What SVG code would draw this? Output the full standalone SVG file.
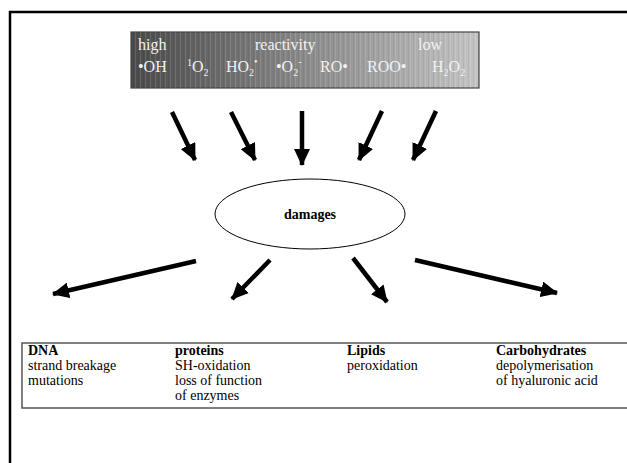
<svg xmlns="http://www.w3.org/2000/svg" width="627" height="463" viewBox="0 0 627 463">
<defs>
<linearGradient id="grad" x1="0" y1="0" x2="1" y2="0">
<stop offset="0" stop-color="#4a4a4a"/>
<stop offset="0.5" stop-color="#8a8a8a"/>
<stop offset="1" stop-color="#c4c4c4"/>
</linearGradient>
<pattern id="stripes" x="0" y="0" width="5" height="10" patternUnits="userSpaceOnUse">
<rect x="0" y="0" width="1" height="10" fill="#ffffff" fill-opacity="0.12"/>
<rect x="3" y="0" width="1" height="10" fill="#000000" fill-opacity="0.06"/>
</pattern>
<marker id="ah" markerUnits="userSpaceOnUse" markerWidth="18" markerHeight="16" refX="16" refY="8" orient="auto">
<path d="M0,0 L17,8 L0,16 Z" fill="#000"/>
</marker>
<style>
.conn { stroke:#000; stroke-width:4.5; fill:none; marker-end:url(#ah); }
.w { font-family:"Liberation Serif","Times New Roman",serif; font-size:16px; fill:#f2f2f2; }
.t { font-family:"Liberation Serif","Times New Roman",serif; font-size:14px; fill:#000; }
.b { font-weight:bold; }
</style>
</defs>
<rect x="0" y="0" width="627" height="463" fill="#fff"/>
<rect x="10" y="12" width="640" height="470" fill="none" stroke="#000" stroke-width="2.5"/>

<g id="reactivity-scale">
<rect x="131" y="32" width="348" height="56" fill="url(#grad)" stroke="#444" stroke-width="1.2"/>
<rect x="131" y="32" width="348" height="56" fill="url(#stripes)"/>
<text class="w" x="138" y="50">high</text>
<text class="w" x="255" y="50">reactivity</text>
<text class="w" x="418" y="50">low</text>
<text class="w" x="138" y="72">•OH</text>
<text class="w" x="187" y="72"><tspan font-size="10" dy="-6">1</tspan><tspan dy="6">O</tspan><tspan font-size="10" dy="4">2</tspan></text>
<text class="w" x="226" y="72">HO<tspan font-size="10" dy="4">2</tspan><tspan font-size="10" dy="-11">•</tspan></text>
<text class="w" x="276" y="72">•O<tspan font-size="10" dy="4">2</tspan><tspan font-size="10" dy="-11">-</tspan></text>
<text class="w" x="320" y="72">RO•</text>
<text class="w" x="367" y="72">ROO•</text>
<text class="w" x="432" y="72">H<tspan font-size="10" dy="4">2</tspan><tspan dy="-4">O</tspan><tspan font-size="10" dy="4">2</tspan></text>
</g>

<g id="damages">
<ellipse cx="310" cy="214" rx="95" ry="35" fill="#fff" stroke="#000" stroke-width="1"/>
<text class="t b" x="310" y="219" text-anchor="middle">damages</text>
</g>

<g id="targets">
<rect x="22" y="343" width="620" height="65" fill="none" stroke="#555" stroke-width="1.5"/>
<text class="t" x="28" y="355"><tspan class="b">DNA</tspan><tspan x="28" dy="15">strand breakage</tspan><tspan x="28" dy="15">mutations</tspan></text>
<text class="t" x="175" y="355"><tspan class="b">proteins</tspan><tspan x="175" dy="15">SH-oxidation</tspan><tspan x="175" dy="15">loss of function</tspan><tspan x="175" dy="15">of enzymes</tspan></text>
<text class="t" x="347" y="355"><tspan class="b">Lipids</tspan><tspan x="347" dy="15">peroxidation</tspan></text>
<text class="t" x="496" y="355"><tspan class="b">Carbohydrates</tspan><tspan x="496" dy="15">depolymerisation</tspan><tspan x="496" dy="15">of hyaluronic acid</tspan></text>
</g>

<g id="connectors">
<line class="conn" x1="172" y1="112" x2="195" y2="160"/>
<line class="conn" x1="231" y1="112" x2="255" y2="160"/>
<line class="conn" x1="302" y1="111" x2="302" y2="165"/>
<line class="conn" x1="382" y1="111" x2="359" y2="160"/>
<line class="conn" x1="436" y1="111" x2="413" y2="160"/>
<line class="conn" x1="196" y1="261" x2="53" y2="294"/>
<line class="conn" x1="270" y1="260" x2="232" y2="299"/>
<line class="conn" x1="353" y1="258" x2="387" y2="302"/>
<line class="conn" x1="415" y1="260" x2="557" y2="293"/>
</g>
</svg>
